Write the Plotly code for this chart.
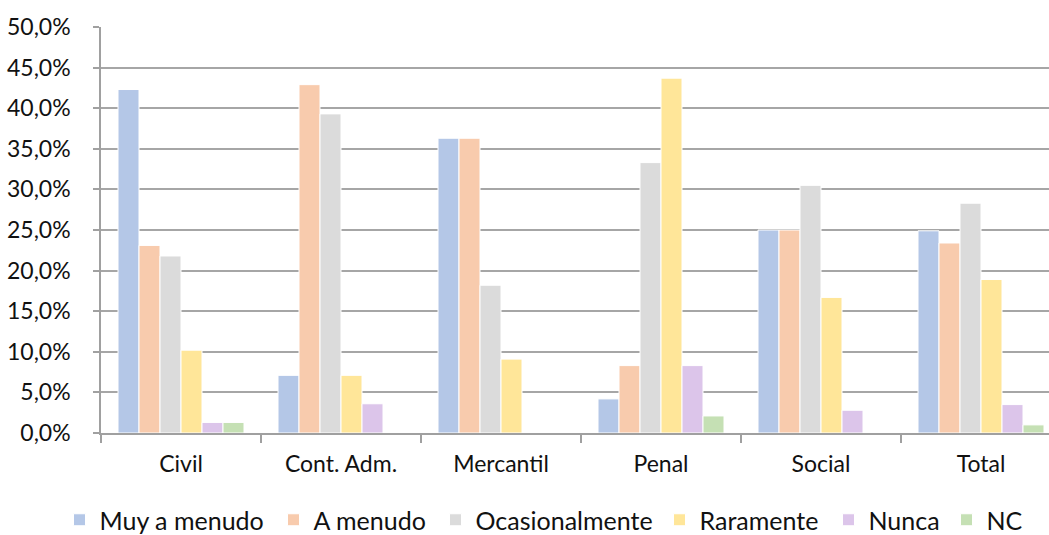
import plotly.graph_objects as go

categories = ["Civil", "Cont. Adm.", "Mercantil", "Penal", "Social", "Total"]
series_names = ["Muy a menudo", "A menudo", "Ocasionalmente", "Raramente", "Nunca", "NC"]
muy_a_menudo = [0.423, 0.071, 0.363, 0.042, 0.250, 0.249]
a_menudo = [0.231, 0.429, 0.363, 0.083, 0.250, 0.234]
ocasionalmente = [0.218, 0.393, 0.182, 0.333, 0.305, 0.283]
raramente = [0.102, 0.071, 0.091, 0.437, 0.167, 0.189]
nunca = [0.013, 0.036, 0.0, 0.083, 0.028, 0.035]
nc = [0.013, 0.0, 0.0, 0.021, 0.0, 0.010]
colors = ["#B4C7E7", "#F8CBAD", "#DBDBDB", "#FFE699", "#DCC5EA", "#C5E0B4"]

all_values = [muy_a_menudo, a_menudo, ocasionalmente, raramente, nunca, nc]

# layout geometry (pixels)
W, H = 1049, 535
ML, MR, MT, MB = 101, 0, 27, 102
PW = W - ML - MR
PH = H - MT - MB
legend_symbol_px = [81.5, 295.5, 457.5, 681.5, 850.5, 968.5]
legend_center_y_px = 520
SYMBOL_OFFSET = 22  # legend left edge -> symbol center (measured)

FONT = "Lato"
TXT = "#111111"

fig = go.Figure()
legend_ids = ["legend"] + [f"legend{i}" for i in range(2, len(series_names) + 1)]
for name, vals, col, lid in zip(series_names, all_values, colors, legend_ids):
    fig.add_trace(go.Bar(
        x=categories, y=vals, name=name, legend=lid,
        marker=dict(color=col, line=dict(color="white", width=1)),
    ))

legend_layout = {}
for lid, sx in zip(legend_ids, legend_symbol_px):
    legend_layout[lid] = dict(
        orientation="h",
        x=(sx - SYMBOL_OFFSET - ML) / PW, xanchor="left",
        y=-(legend_center_y_px - (MT + PH)) / PH, yanchor="middle",
        font=dict(family=FONT, size=25, color=TXT),
        itemwidth=30, bgcolor="rgba(0,0,0,0)",
    )

fig.update_layout(
    width=W, height=H,
    margin=dict(l=ML, r=MR, t=MT, b=MB, autoexpand=False),
    paper_bgcolor="white", plot_bgcolor="white",
    barmode="group", bargap=0.2125, bargroupgap=0,
    separators=",.",
    font=dict(family=FONT, size=23, color=TXT),
    showlegend=True,
    **legend_layout,
)
fig.update_xaxes(
    type="category", range=[-0.5, -0.5 + PW / 160], automargin=False,
    showline=True, linecolor="#A0A0A0", linewidth=1.5,
    ticks="outside", ticklen=8, tickcolor="#A0A0A0", tickwidth=1.5,
    tickson="boundaries", showgrid=False,
    ticklabelstandoff=10,
    tickfont=dict(family=FONT, size=23, color=TXT),
)
fig.update_yaxes(
    range=[0, 0.5], dtick=0.05, tickformat=".1%", automargin=False,
    showline=True, linecolor="#A0A0A0", linewidth=1.5,
    ticks="outside", ticklen=6, tickcolor="#A0A0A0", tickwidth=1.5,
    showgrid=True, gridcolor="#A6A6A6", gridwidth=1.5,
    zeroline=False,
    ticklabelstandoff=18,
    tickfont=dict(family=FONT, size=23, color=TXT),
)

fig.write_html(
    "out.html",
    config={"displayModeBar": False},
    post_script="document.body.style.margin='0';document.body.style.overflow='hidden';",
)
